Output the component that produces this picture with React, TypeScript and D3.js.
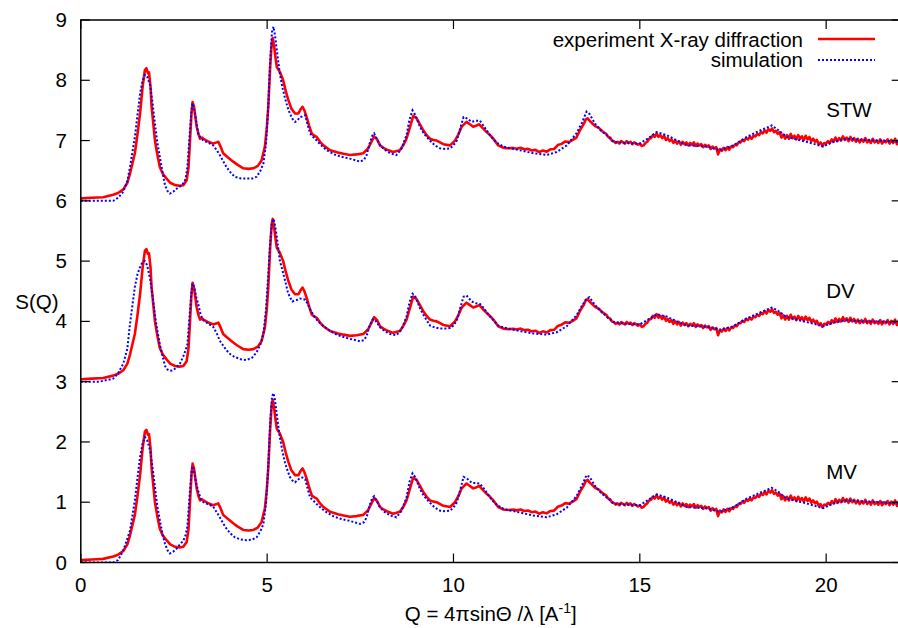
import React from "react";
import * as d3 from "d3";

// Experimental X-ray S(Q) as [Q, S] (same measurement, shown three times with offsets)
const expData: [number, number][] = [
  [0.0, 0.04], [0.3, 0.05], [0.6, 0.06], [0.87, 0.1], [1.0, 0.13], [1.14, 0.19], [1.25, 0.3], [1.32, 0.45], [1.45, 0.79], [1.52, 1.1],
  [1.59, 1.45], [1.66, 1.9], [1.72, 2.17], [1.76, 2.2], [1.8, 2.12], [1.83, 2.13], [1.87, 1.9], [1.9, 1.56], [1.95, 1.25], [1.99, 1.0],
  [2.05, 0.78], [2.12, 0.56], [2.2, 0.45], [2.3, 0.37], [2.4, 0.3], [2.53, 0.26], [2.65, 0.25], [2.75, 0.26], [2.84, 0.34], [2.89, 0.55],
  [2.93, 1.0], [2.97, 1.45], [3.0, 1.64], [3.04, 1.55], [3.11, 1.23], [3.16, 1.1], [3.2, 1.03], [3.25, 1.05], [3.29, 1.03], [3.4, 0.99],
  [3.55, 0.95], [3.65, 0.97], [3.69, 0.98], [3.75, 0.9], [3.82, 0.79], [3.95, 0.72], [4.09, 0.65], [4.2, 0.6], [4.36, 0.54], [4.5, 0.53],
  [4.63, 0.54], [4.75, 0.58], [4.85, 0.67], [4.94, 0.9], [4.99, 1.2], [5.03, 1.56], [5.08, 2.2], [5.12, 2.6], [5.15, 2.7], [5.19, 2.55],
  [5.23, 2.35], [5.26, 2.22], [5.34, 2.14], [5.43, 2.0], [5.5, 1.82], [5.57, 1.67], [5.65, 1.53], [5.75, 1.45], [5.84, 1.45], [5.9, 1.52],
  [5.95, 1.56], [6.0, 1.5], [6.06, 1.39], [6.13, 1.24], [6.2, 1.11], [6.27, 1.08], [6.33, 1.06], [6.42, 0.98], [6.51, 0.92], [6.69, 0.84],
  [6.9, 0.8], [7.05, 0.78], [7.22, 0.76], [7.4, 0.77], [7.58, 0.79], [7.71, 0.87], [7.8, 0.98], [7.87, 1.07], [7.95, 1.02], [8.03, 0.92],
  [8.12, 0.88], [8.21, 0.85], [8.38, 0.81], [8.56, 0.84], [8.65, 0.92], [8.74, 1.03], [8.83, 1.22], [8.92, 1.41], [9.01, 1.37], [9.1, 1.27],
  [9.19, 1.17], [9.28, 1.09], [9.37, 1.03], [9.46, 1.01], [9.55, 1.0], [9.64, 0.97], [9.73, 0.94], [9.91, 0.92], [10.04, 1.0], [10.13, 1.1],
  [10.22, 1.23], [10.35, 1.31], [10.44, 1.27], [10.53, 1.23], [10.62, 1.25], [10.69, 1.27], [10.78, 1.21], [10.89, 1.14], [10.98, 1.09], [11.07, 1.03],
  [11.2, 0.92], [11.34, 0.88], [11.4, 0.875], [11.5, 0.872], [11.6, 0.878], [11.7, 0.865], [11.8, 0.88], [11.9, 0.855], [12.0, 0.862], [12.1, 0.835],
  [12.2, 0.845], [12.3, 0.81], [12.4, 0.835], [12.5, 0.815], [12.6, 0.855], [12.7, 0.86], [12.8, 0.925], [12.9, 0.945], [13.0, 0.985], [13.1, 0.975],
  [13.2, 1.01], [13.3, 1.05], [13.4, 1.18], [13.5, 1.28], [13.55, 1.35], [13.6, 1.37], [13.65, 1.33], [13.7, 1.3], [13.8, 1.24], [13.9, 1.21],
  [14.0, 1.15], [14.05, 1.13], [14.1, 1.11], [14.15, 1.06], [14.2, 1.05], [14.25, 1.0], [14.3, 0.99], [14.35, 0.96], [14.4, 0.98], [14.45, 0.95],
  [14.5, 0.99], [14.55, 0.97], [14.6, 0.95], [14.65, 0.99], [14.7, 0.96], [14.75, 0.98], [14.8, 0.94], [14.85, 0.97], [14.9, 0.95], [14.95, 0.93],
  [15.0, 0.95], [15.05, 0.91], [15.1, 0.92], [15.15, 0.96], [15.2, 0.98], [15.25, 1.03], [15.3, 1.04], [15.35, 1.09], [15.4, 1.06], [15.45, 1.12],
  [15.5, 1.06], [15.55, 1.09], [15.6, 1.04], [15.65, 1.08], [15.7, 1.01], [15.75, 1.04], [15.8, 0.99], [15.85, 1.02], [15.9, 0.96], [15.95, 1.0],
  [16.0, 0.95], [16.05, 0.99], [16.1, 0.93], [16.15, 0.98], [16.2, 0.94], [16.25, 0.97], [16.3, 0.92], [16.35, 0.96], [16.4, 0.93], [16.45, 0.97],
  [16.5, 0.91], [16.55, 0.95], [16.6, 0.92], [16.65, 0.94], [16.7, 0.89], [16.75, 0.93], [16.8, 0.9], [16.85, 0.92], [16.9, 0.86], [16.95, 0.9],
  [17.0, 0.87], [17.05, 0.89], [17.1, 0.77], [17.15, 0.86], [17.2, 0.83], [17.25, 0.88], [17.3, 0.84], [17.35, 0.89], [17.4, 0.85], [17.45, 0.9],
  [17.5, 0.89], [17.55, 0.93], [17.6, 0.92], [17.65, 0.97], [17.7, 0.97], [17.75, 1.01], [17.8, 0.99], [17.85, 1.04], [17.9, 1.02], [17.95, 1.06],
  [18.0, 1.03], [18.05, 1.08], [18.1, 1.07], [18.15, 1.11], [18.2, 1.09], [18.25, 1.14], [18.3, 1.12], [18.35, 1.17], [18.4, 1.13], [18.45, 1.19],
  [18.5, 1.16], [18.55, 1.2], [18.6, 1.14], [18.65, 1.16], [18.7, 1.11], [18.75, 1.14], [18.8, 1.05], [18.85, 1.1], [18.9, 1.03], [18.95, 1.09],
  [19.0, 1.03], [19.05, 1.11], [19.1, 1.04], [19.15, 1.08], [19.2, 1.02], [19.25, 1.09], [19.3, 1.03], [19.35, 1.07], [19.4, 1.01], [19.45, 1.08],
  [19.5, 1.02], [19.55, 1.06], [19.6, 0.99], [19.65, 1.03], [19.7, 0.98], [19.75, 1.01], [19.8, 0.94], [19.85, 0.97], [19.9, 0.91], [19.95, 0.96],
  [20.0, 0.95], [20.05, 0.99], [20.1, 0.96], [20.15, 1.02], [20.2, 0.98], [20.25, 1.05], [20.3, 0.99], [20.35, 1.04], [20.4, 1.0], [20.45, 1.07],
  [20.5, 1.01], [20.55, 1.05], [20.6, 0.99], [20.65, 1.06], [20.7, 1.0], [20.75, 1.04], [20.8, 0.98], [20.85, 1.03], [20.9, 0.97], [20.95, 1.02],
  [21.0, 0.98], [21.05, 1.04], [21.1, 0.97], [21.15, 1.01], [21.2, 0.96], [21.25, 1.03], [21.3, 0.97], [21.35, 1.0], [21.4, 0.96], [21.45, 1.02],
  [21.5, 0.95], [21.55, 1.0], [21.6, 0.97], [21.65, 1.02], [21.7, 0.95], [21.75, 1.01], [21.8, 0.96], [21.85, 1.03], [21.9, 0.94], [21.95, 1.01],
  [22.0, 0.88],
];

// Simulated S(Q) for the three water models (unshifted), sampled at simQ
const simQ: number[] = [
  0.0, 0.5, 0.87, 1.0, 1.14, 1.25, 1.32, 1.45, 1.52, 1.59, 1.66, 1.72, 1.78, 1.86, 1.92, 1.99, 2.05, 2.12, 2.2, 2.26,
  2.33, 2.39, 2.48, 2.57, 2.66, 2.75, 2.81, 2.86, 2.93, 2.97, 3.0, 3.05, 3.1, 3.15, 3.22, 3.29, 3.4, 3.55, 3.65, 3.73,
  3.82, 3.91, 4.02, 4.13, 4.3, 4.45, 4.6, 4.72, 4.82, 4.9, 4.97, 5.03, 5.08, 5.13, 5.17, 5.21, 5.26, 5.34, 5.41, 5.48,
  5.55, 5.61, 5.68, 5.75, 5.82, 5.88, 5.95, 6.02, 6.08, 6.15, 6.25, 6.33, 6.45, 6.6, 6.8, 7.0, 7.22, 7.49, 7.6, 7.67,
  7.75, 7.82, 7.87, 7.95, 8.03, 8.15, 8.3, 8.47, 8.6, 8.74, 8.82, 8.9, 8.97, 9.1, 9.2, 9.37, 9.5, 9.64, 9.8, 9.91,
  10.0, 10.09, 10.18, 10.27, 10.35, 10.49, 10.6, 10.71, 10.8, 10.98, 11.1, 11.2, 11.34, 11.55, 11.78, 12.14, 12.5, 12.77, 13.04, 13.3,
  13.45, 13.57, 13.65, 13.8, 13.95, 14.11, 14.29, 14.6, 15.0, 15.25, 15.45, 15.72, 16.0, 16.26, 16.8, 17.15, 17.51, 17.87, 18.2, 18.54,
  18.7, 18.94, 19.47, 19.92, 20.2, 20.55, 21.0, 21.45, 21.9, 22.0,
];
const simSTW: number[] = [
  0.0, 0.0, 0.0, 0.05, 0.15, 0.33, 0.56, 1.06, 1.42, 1.78, 2.0, 2.09, 2.06, 1.92, 1.65, 1.28, 0.98, 0.73, 0.45, 0.26,
  0.16, 0.12, 0.15, 0.2, 0.24, 0.29, 0.36, 0.56, 1.17, 1.5, 1.62, 1.5, 1.3, 1.12, 1.04, 1.0, 0.97, 0.92, 0.84, 0.76,
  0.66, 0.56, 0.47, 0.4, 0.37, 0.37, 0.37, 0.4, 0.5, 0.62, 0.95, 1.56, 2.3, 2.8, 2.89, 2.75, 2.5, 2.11, 1.88, 1.7,
  1.55, 1.45, 1.36, 1.31, 1.34, 1.39, 1.4, 1.42, 1.28, 1.12, 1.05, 1.0, 0.92, 0.84, 0.77, 0.73, 0.7, 0.65, 0.68, 0.76,
  0.95, 1.08, 1.12, 1.02, 0.92, 0.85, 0.79, 0.76, 0.86, 1.09, 1.35, 1.5, 1.43, 1.23, 1.12, 1.0, 0.92, 0.87, 0.86, 0.87,
  0.92, 1.0, 1.2, 1.39, 1.37, 1.31, 1.33, 1.33, 1.25, 1.09, 1.0, 0.95, 0.9, 0.87, 0.84, 0.79, 0.76, 0.81, 0.92, 1.12,
  1.3, 1.48, 1.44, 1.28, 1.17, 1.09, 0.98, 0.96, 0.95, 1.05, 1.14, 1.09, 1.0, 0.92, 0.9, 0.84, 0.92, 1.06, 1.16, 1.25,
  1.18, 1.06, 0.98, 0.9, 0.98, 1.03, 1.01, 1.0, 0.98, 0.98,
];
const simDV: number[] = [
  0.0, 0.0, 0.05, 0.14, 0.3, 0.55, 0.96, 1.57, 1.78, 1.9, 1.99, 2.0, 1.93, 1.7, 1.45, 1.1, 0.86, 0.62, 0.41, 0.26,
  0.2, 0.18, 0.19, 0.24, 0.3, 0.42, 0.52, 0.62, 1.18, 1.5, 1.63, 1.55, 1.4, 1.29, 1.1, 1.02, 0.97, 0.91, 0.8, 0.68,
  0.6, 0.52, 0.45, 0.41, 0.37, 0.36, 0.4, 0.49, 0.62, 0.8, 1.2, 1.79, 2.3, 2.65, 2.7, 2.6, 2.4, 2.01, 1.85, 1.68,
  1.5, 1.4, 1.33, 1.35, 1.36, 1.38, 1.37, 1.36, 1.3, 1.2, 1.1, 1.03, 0.95, 0.88, 0.8, 0.75, 0.71, 0.67, 0.69, 0.76,
  0.93, 1.02, 1.04, 0.98, 0.9, 0.84, 0.79, 0.77, 0.86, 1.08, 1.32, 1.46, 1.42, 1.22, 1.1, 0.93, 0.9, 0.88, 0.88, 0.89,
  0.93, 1.02, 1.22, 1.41, 1.43, 1.33, 1.3, 1.29, 1.23, 1.08, 1.0, 0.93, 0.9, 0.87, 0.84, 0.8, 0.78, 0.82, 0.92, 1.1,
  1.26, 1.38, 1.4, 1.27, 1.17, 1.08, 0.99, 0.96, 0.95, 1.04, 1.12, 1.08, 1.0, 0.93, 0.91, 0.86, 0.92, 1.05, 1.14, 1.23,
  1.18, 1.07, 0.99, 0.92, 0.98, 1.02, 1.0, 1.0, 0.98, 0.98,
];
const simMV: number[] = [
  0.0, 0.0, 0.0, 0.04, 0.2, 0.4, 0.53, 1.03, 1.4, 1.75, 1.98, 2.08, 2.03, 1.86, 1.6, 1.25, 0.95, 0.7, 0.45, 0.31,
  0.2, 0.15, 0.18, 0.23, 0.3, 0.36, 0.45, 0.6, 1.2, 1.5, 1.6, 1.48, 1.3, 1.19, 1.05, 1.0, 0.97, 0.93, 0.83, 0.75,
  0.65, 0.56, 0.48, 0.42, 0.38, 0.37, 0.38, 0.42, 0.52, 0.64, 0.98, 1.6, 2.3, 2.75, 2.81, 2.7, 2.45, 2.08, 1.85, 1.65,
  1.52, 1.42, 1.36, 1.33, 1.37, 1.4, 1.41, 1.38, 1.24, 1.08, 1.02, 0.97, 0.9, 0.83, 0.76, 0.72, 0.69, 0.64, 0.67, 0.75,
  0.95, 1.07, 1.1, 1.01, 0.91, 0.84, 0.78, 0.75, 0.85, 1.08, 1.34, 1.48, 1.42, 1.22, 1.11, 0.99, 0.91, 0.86, 0.85, 0.86,
  0.91, 1.0, 1.2, 1.42, 1.4, 1.32, 1.32, 1.31, 1.24, 1.08, 0.99, 0.94, 0.89, 0.86, 0.83, 0.78, 0.75, 0.8, 0.91, 1.1,
  1.28, 1.45, 1.42, 1.27, 1.16, 1.08, 0.98, 0.96, 0.95, 1.05, 1.13, 1.08, 1.0, 0.92, 0.9, 0.84, 0.92, 1.06, 1.15, 1.24,
  1.18, 1.06, 0.98, 0.9, 0.98, 1.03, 1.01, 1.0, 0.98, 0.98,
];

const seriesNames: string[] = ["STW", "DV", "MV"];
const seriesOffsets: number[] = [6, 3, 0];
const simSeries: number[][] = [simSTW, simDV, simMV];
const xTicks: number[] = [0, 5, 10, 15, 20];
const yTicks: number[] = [0, 1, 2, 3, 4, 5, 6, 7, 8, 9];
const legendLabels: string[] = ["experiment X-ray diffraction", "simulation"];

const W = 898;
const H = 628;
const FONT = "'Liberation Sans', Arial, Helvetica, sans-serif";
const FS = 20.5;

export default function App() {
  const x = d3.scaleLinear().domain([0, 22]).range([80.8, 900.7]);
  const y = d3.scaleLinear().domain([0, 9]).range([562.5, 20]);
  const left = x(0);
  const right = x(22);
  const top = y(9);
  const bottom = y(0);

  const line = d3
    .line<[number, number]>()
    .x((d) => x(d[0]))
    .y((d) => y(d[1]));

  const tickLen = 9;

  return (
    <svg
      width={W}
      height={H}
      viewBox={`0 0 ${W} ${H}`}
      style={{ position: "absolute", left: 0, top: 0, background: "#fff" }}
      fontFamily={FONT}
    >
      <defs>
        <clipPath id="plotclip">
          <rect x={left} y={top - 2} width={right - left} height={bottom - top + 2} />
        </clipPath>
      </defs>
      <rect x={0} y={0} width={W} height={H} fill="#fff" />

      <g clipPath="url(#plotclip)">
        {seriesNames.map((name, i) => {
          const off = seriesOffsets[i];
          const expPts: [number, number][] = expData.map((d) => [d[0], d[1] + off]);
          const simPts: [number, number][] = simQ.map((q, k) => [q, simSeries[i][k] + off]);
          return (
            <g key={name}>
              <path d={line(expPts) || ""} fill="none" stroke="#ff0000" strokeWidth={2.6} strokeLinejoin="round" />
              <path d={line(simPts) || ""} fill="none" stroke="#0000ff" strokeWidth={2} strokeDasharray="2 2" />
            </g>
          );
        })}
      </g>

      {/* frame */}
      <path d={`M${left},${top}H${right}V${bottom}H${left}Z`} fill="none" stroke="#000" strokeWidth={1.5} />

      {/* ticks */}
      {xTicks.map((t) => (
        <g key={"xt" + t}>
          <line x1={x(t)} x2={x(t)} y1={bottom} y2={bottom - tickLen} stroke="#000" strokeWidth={1.2} />
          <line x1={x(t)} x2={x(t)} y1={top} y2={top + tickLen} stroke="#000" strokeWidth={1.2} />
          <text x={x(t)} y={592} textAnchor="middle" fontSize={FS} fill="#000">
            {t}
          </text>
        </g>
      ))}
      {yTicks.map((t) => (
        <g key={"yt" + t}>
          <line x1={left} x2={left + tickLen} y1={y(t)} y2={y(t)} stroke="#000" strokeWidth={1.2} />
          <line x1={right} x2={right - tickLen} y1={y(t)} y2={y(t)} stroke="#000" strokeWidth={1.2} />
          <text x={67} y={y(t) + 7} textAnchor="end" fontSize={FS} fill="#000">
            {t}
          </text>
        </g>
      ))}

      {/* axis titles */}
      <text x={(left + right) / 2} y={621} textAnchor="middle" fontSize={FS} fill="#000">
        Q = 4πsinΘ /λ [A
        <tspan dy={-8} fontSize={14}>-1</tspan>
        <tspan dy={8}>]</tspan>
      </text>
      <text x={37} y={309} textAnchor="middle" fontSize={FS} fill="#000">
        S(Q)
      </text>

      {/* series labels */}
      {seriesNames.map((name, i) => (
        <text key={"lab" + name} x={x(20)} y={y(seriesOffsets[i] + 1.5) + 7} fontSize={FS} fill="#000">
          {name}
        </text>
      ))}

      {/* legend */}
      <text x={803} y={47} textAnchor="end" fontSize={FS} fill="#000">
        {legendLabels[0]}
      </text>
      <line x1={818} x2={875} y1={39} y2={39} stroke="#ff0000" strokeWidth={2.6} />
      <text x={803} y={67} textAnchor="end" fontSize={FS} fill="#000">
        {legendLabels[1]}
      </text>
      <line x1={818} x2={875} y1={60} y2={60} stroke="#0000ff" strokeWidth={2} strokeDasharray="2 2" />
    </svg>
  );
}
